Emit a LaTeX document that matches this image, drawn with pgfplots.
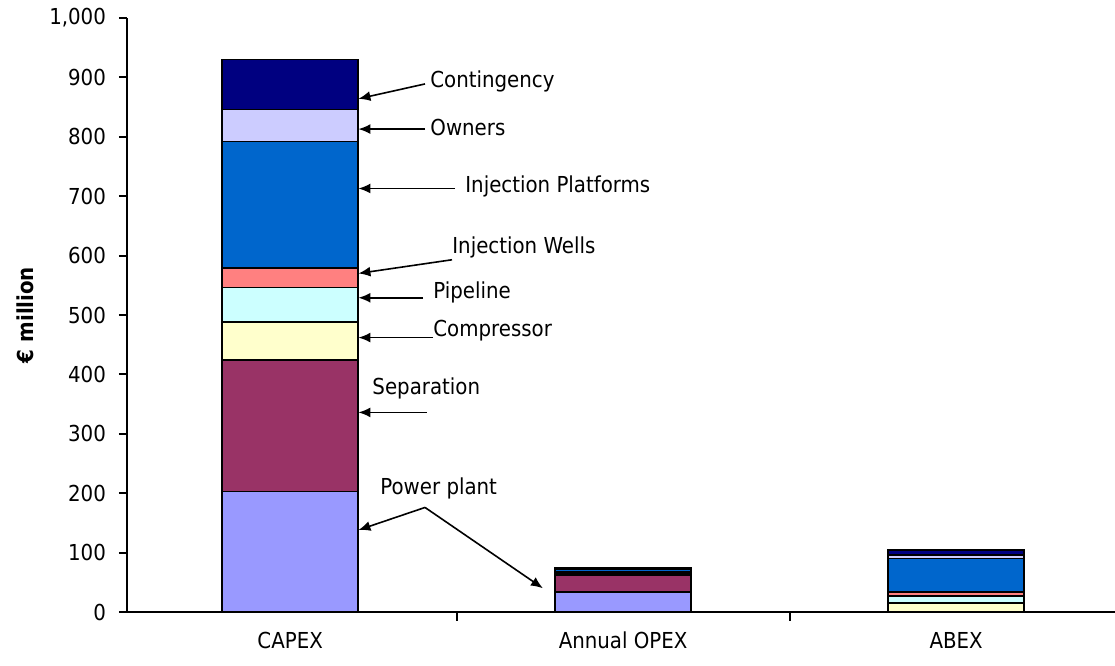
\documentclass[border=0pt]{standalone}
\usepackage{pgfplots}
\pgfplotsset{compat=1.18}
\usepackage{pgfplotstable}
\usepackage{fontspec}
\setmainfont{DejaVu Sans Condensed}
\usetikzlibrary{arrows.meta}
\definecolor{cPower}{HTML}{9999FF}
\definecolor{cSep}{HTML}{993366}
\definecolor{cComp}{HTML}{FFFFCC}
\definecolor{cPipe}{HTML}{CCFFFF}
\definecolor{cWells}{HTML}{FF8080}
\definecolor{cPlat}{HTML}{0066CC}
\definecolor{cOwn}{HTML}{CCCCFF}
\definecolor{cCont}{HTML}{000080}
\pgfplotstableread{
x power sep comp pipe wells plat owners cont
0 203 221 64 58 33 213 54 84
1 34 28 2 1 2 5 1 1
2 0 0 15 12 7 56 6 8
}\datatable
\begin{document}
\begin{tikzpicture}[font=\fontsize{11}{12}\selectfont]
\begin{axis}[
  scale only axis,
  width=494pt, height=297pt,
  xmin=-0.49, xmax=2.477,
  ymin=0, ymax=1000,
  ybar stacked,
  bar width=68pt,
  axis x line=bottom, axis y line=left,
  axis line style={-, line width=1pt, black},
  xtick={0,1,2},
  xticklabels={CAPEX, Annual OPEX, ABEX},
  xtick style={draw=none},
  x tick label style={anchor=base, yshift=-14pt, font=\fontsize{11}{12}\selectfont},
  ytick={0,100,...,1000},
  tick align=outside,
  major tick length=4pt,
  ytick style={black, line width=1pt},
  y tick label style={xshift=-3pt, font=\fontsize{11}{12}\selectfont},
  /pgf/number format/.cd, 1000 sep={,}, assume math mode=true,
  /pgfplots/.cd,
  ylabel={\bfseries € million},
  ylabel style={at={(axis description cs:-0.103,0.5)}, anchor=center, font=\fontsize{11}{12}\selectfont},
  clip=false,
  every axis plot/.append style={draw=black, line width=0.75pt},
]
\addplot[fill=cPower] table[x=x,y=power]{\datatable};
\addplot[fill=cSep] table[x=x,y=sep]{\datatable};
\addplot[fill=cComp] table[x=x,y=comp]{\datatable};
\addplot[fill=cPipe] table[x=x,y=pipe]{\datatable};
\addplot[fill=cWells] table[x=x,y=wells]{\datatable};
\addplot[fill=cPlat] table[x=x,y=plat]{\datatable};
\addplot[fill=cOwn] table[x=x,y=owners]{\datatable};
\addplot[fill=cCont] table[x=x,y=cont]{\datatable};
% category separator ticks
\draw[line width=1pt] (axis cs:0.5,0) -- ([yshift=-4.5pt]axis cs:0.5,0);
\draw[line width=1pt] (axis cs:1.5,0) -- ([yshift=-4.5pt]axis cs:1.5,0);
% annotations
\tikzset{ann/.style={line width=0.8pt, -{Latex[length=6pt,width=5pt]}}}
\node[anchor=west, inner sep=0pt] at (axis cs:0.42,894) {Contingency};
\draw[ann] (axis cs:0.405,889) -- (axis cs:0.205,864);
\node[anchor=west, inner sep=0pt] at (axis cs:0.42,815) {Owners};
\draw[ann] (axis cs:0.405,813) -- (axis cs:0.205,813);
\node[anchor=west, inner sep=0pt] at (axis cs:0.525,716) {Injection Platforms};
\draw[ann] (axis cs:0.495,713) -- (axis cs:0.205,713);
\node[anchor=west, inner sep=0pt] at (axis cs:0.486,613) {Injection Wells};
\draw[ann] (axis cs:0.486,593) -- (axis cs:0.205,570);
\node[anchor=west, inner sep=0pt] at (axis cs:0.429,538) {Pipeline};
\draw[ann] (axis cs:0.399,529) -- (axis cs:0.205,529);
\node[anchor=west, inner sep=0pt] at (axis cs:0.429,474) {Compressor};
\draw[ann] (axis cs:0.429,462) -- (axis cs:0.205,462);
\node[anchor=west, inner sep=0pt] at (axis cs:0.246,376) {Separation};
\draw[ann] (axis cs:0.41,336) -- (axis cs:0.205,336);
\node[anchor=west, inner sep=0pt] at (axis cs:0.27,208) {Power plant};
\draw[ann] (axis cs:0.405,176) -- (axis cs:0.205,138);
\draw[ann] (axis cs:0.405,176) -- (axis cs:0.759,40);
\end{axis}
\pgfresetboundingbox
\path ([xshift=-63.5pt,yshift=-26.5pt]current axis.south west) rectangle ([yshift=9pt]current axis.north east);
\end{tikzpicture}
\end{document}
